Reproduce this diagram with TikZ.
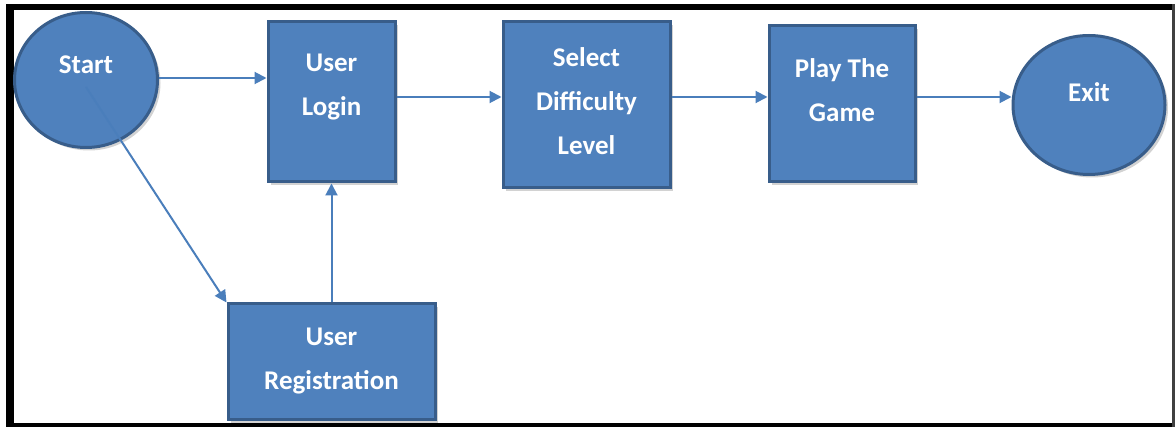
\documentclass[tikz,border=0pt]{standalone}
\usepackage{fontspec}
\setmainfont{Carlito}
\usetikzlibrary{shapes.geometric,arrows.meta,shadows}
\definecolor{boxfill}{HTML}{4F81BD}
\definecolor{boxline}{HTML}{385D8A}
\definecolor{arrowc}{HTML}{4A7EBB}
\tikzset{
  shade/.style={drop shadow={opacity=0.35,shadow xshift=3pt,shadow yshift=-3pt}},
  boxnode/.style={rectangle,draw=boxline,line width=3pt,fill=boxfill,shade,inner sep=0pt},
  ovalnode/.style={ellipse,draw=boxline,line width=3pt,fill=boxfill,shade,inner sep=0pt},
  lbl/.style={text=white,font=\fontsize{27}{44}\selectfont\bfseries,align=center},
  arr/.style={draw=arrowc,line width=2pt,-{Triangle[length=12pt,width=12pt]}},
}
\begin{document}
\begin{tikzpicture}[x=1pt,y=-1pt]
\useasboundingbox (0,0) rectangle (1176,427);
\fill[white] (0,0) rectangle (1176,427);
% frame
\fill[black] (6,4) rectangle (14,427);
\fill[black] (6,4) rectangle (1175,10);
\fill[black] (6,423) rectangle (1175,427);
\fill[black!75] (1172,4) rectangle (1175,427);

\node[ovalnode,minimum width=143pt,minimum height=135pt,
  label={[lbl,yshift=15pt]center:Start}] (start) at (86,80) {};
\node[boxnode,minimum width=127pt,minimum height=160pt,
  label={[lbl,yshift=15pt]center:{User\\Login}}] (login) at (331.5,102) {};
\node[boxnode,minimum width=167pt,minimum height=166pt,
  label={[lbl,yshift=4pt]center:{Select\\Difficulty\\Level}}] (select) at (586.5,105) {};
\node[boxnode,minimum width=146pt,minimum height=156pt,
  label={[lbl,yshift=14pt]center:{Play The\\Game}}] (play) at (842,104) {};
\node[ovalnode,minimum width=152pt,minimum height=139pt,
  label={[lbl,yshift=13pt]center:Exit}] (exit) at (1089,105) {};
\node[boxnode,minimum width=207pt,minimum height=116pt,
  label={[lbl,yshift=1pt]center:{User\\Registration}}] (reg) at (331.5,362) {};

\draw[arr] ([yshift=2pt]start.east) -- ([yshift=2pt]start.east -| login.west);
\draw[arr] ([yshift=5pt]login.east) -- ([yshift=5pt]login.east -| select.west);
\draw[arr] ([yshift=8pt]select.east) -- ([yshift=8pt]select.east -| play.west);
\draw[arr] ([yshift=7pt]play.east) -- ([yshift=7pt]play.east -| exit.west);
\draw[arr] ([yshift=-7pt]start.center) -- (reg.north west);
\draw[arr] (reg.north) -- (login.south);
\end{tikzpicture}
\end{document}
